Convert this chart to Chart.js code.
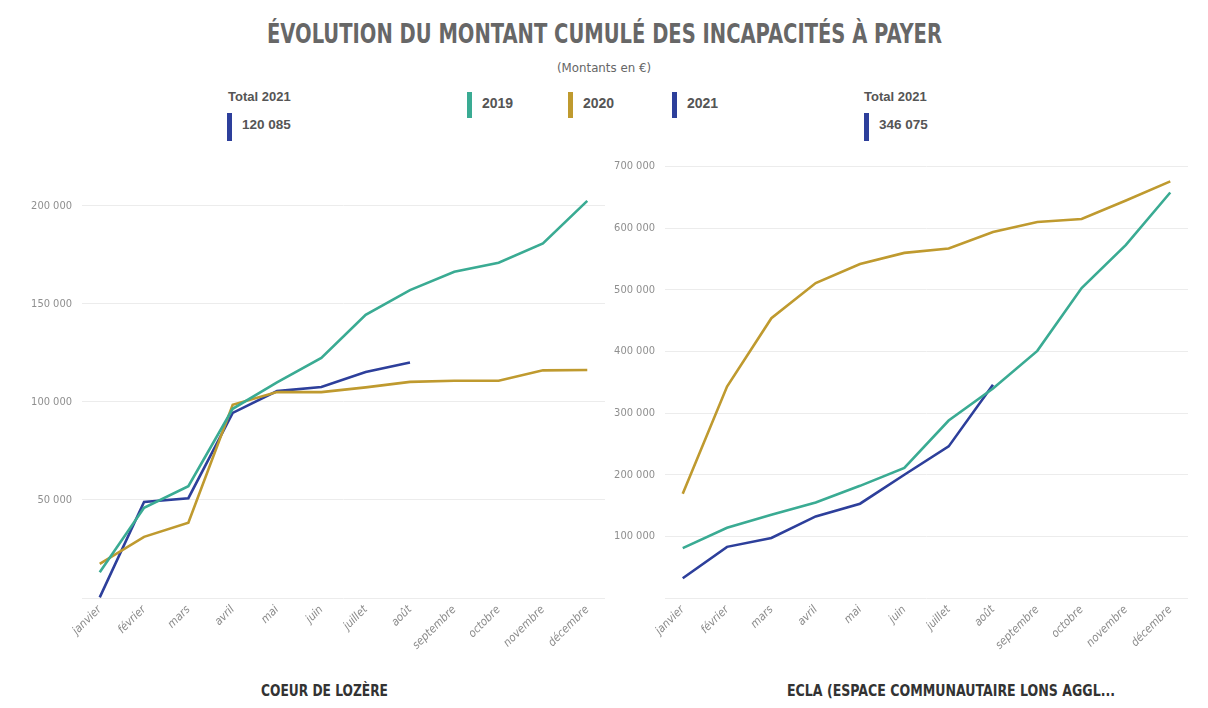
<!DOCTYPE html>
<html><head><meta charset="utf-8">
<script src="https://cdn.jsdelivr.net/npm/chart.js@4/dist/chart.umd.min.js"></script>
<style>
html,body{margin:0;padding:0;background:#fff;}
body{width:1208px;height:708px;overflow:hidden;position:relative;font-family:'Liberation Sans',Arial,sans-serif;}
.t{position:absolute;white-space:nowrap;line-height:1;transform-origin:0 0;}
.mk{position:absolute;width:5px;height:26px;}
.cv{position:absolute;top:150px;}
</style>
</head><body>
<canvas id="c1" class="cv" width="615" height="520" style="left:0px;width:615px;height:520px"></canvas>
<canvas id="c2" class="cv" width="608" height="520" style="left:600px;width:608px;height:520px"></canvas>
<script>
// ---- data ----
const months = ['janvier','février','mars','avril','mai','juin','juillet','août','septembre','octobre','novembre','décembre'];
const seriesNames = ['2019','2020','2021'];
const lozere2019 = [13100, 46000, 57000, 96500, 110000, 122400, 144400, 157000, 166400, 171000, 180800, 202500];
const lozere2020 = [17400, 31200, 38400, 98500, 105000, 105000, 107400, 110200, 110800, 110800, 116100, 116300];
const lozere2021 = [300, 49000, 50900, 94400, 105500, 107600, 115200, 120085, null, null, null, null];
const ecla2019 = [81000, 114000, 135000, 155000, 182000, 211000, 288000, 340000, 401000, 503000, 573000, 658000];
const ecla2020 = [169000, 343000, 454000, 511000, 542000, 560000, 567000, 594000, 610000, 615000, 645000, 676000];
const ecla2021 = [32000, 83000, 97300, 132400, 153000, 200000, 246000, 346075, null, null, null, null];
const lozereTicks = [0, 50000, 100000, 150000, 200000];
const eclaTicks = [0, 100000, 200000, 300000, 400000, 500000, 600000, 700000];

const COL = {'2019':'#3aab93','2020':'#bf9a2f','2021':'#2d3f9b'};
const NARROW = "'Liberation Sans Narrow','DejaVu Sans Condensed','Roboto Condensed','Liberation Sans',sans-serif";
const fmt = v => String(Math.round(v)).replace(/\B(?=(\d{3})+(?!\d))/g, ' ');
const lastVal = a => a.filter(v => v !== null).slice(-1)[0];

function addText(txt, o){
  const d = document.createElement('div');
  d.className = 't';
  d.textContent = txt;
  d.style.fontSize = o.size + 'px';
  d.style.fontWeight = o.weight || 'normal';
  d.style.color = o.color || '#555';
  d.style.fontFamily = o.family || "'Liberation Sans',Arial,sans-serif";
  d.style.top = (o.baseline - 0.846 * o.size) + 'px';
  document.body.appendChild(d);
  const w = d.getBoundingClientRect().width;
  if (o.fit) {
    d.style.left = o.x + 'px';
    d.style.transform = 'scaleX(' + (o.fit / w) + ')';
  } else if (o.align === 'center') {
    d.style.left = (o.x - w / 2) + 'px';
  } else {
    d.style.left = o.x + 'px';
  }
  return d;
}
function addMarker(x, y, color, h){
  const m = document.createElement('div');
  m.className = 'mk';
  m.style.left = x + 'px'; m.style.top = y + 'px'; m.style.background = color;
  if (h) m.style.height = h + 'px';
  document.body.appendChild(m);
}

// ---- header texts ----
addText('ÉVOLUTION DU MONTANT CUMULÉ DES INCAPACITÉS À PAYER', {x:267, fit:675, baseline:43, size:27, weight:'bold', color:'#676767', family:NARROW});
addText('(Montants en €)', {x:557, fit:94, baseline:73, size:12.5, color:'#666', family:NARROW});

const legX = [467, 568, 672];
seriesNames.forEach((n, i) => {
  addMarker(legX[i], 92, COL[n]);
  addText(n, {x:legX[i] + 15, baseline:108, size:14, weight:'bold', color:'#555'});
});

addText('Total 2021', {x:228, baseline:101, size:13, weight:'bold', color:'#555'});
addMarker(227, 113, COL['2021'], 28);
addText(fmt(lastVal(lozere2021)), {x:242, baseline:129, size:13.5, weight:'bold', color:'#555'});

addText('Total 2021', {x:864, baseline:101, size:13, weight:'bold', color:'#555'});
addMarker(864, 113, COL['2021'], 28);
addText(fmt(lastVal(ecla2021)), {x:879, baseline:129, size:13.5, weight:'bold', color:'#555'});

addText('COEUR DE LOZÈRE', {x:261, fit:127, baseline:697, size:15, weight:'bold', color:'#333', family:NARROW});
addText('ECLA (ESPACE COMMUNAUTAIRE LONS AGGL...', {x:787, fit:328, baseline:697, size:15, weight:'bold', color:'#333', family:NARROW});

// ---- charts ----
function makeChart(id, s19, s20, s21, tickVals, yMax, yWidth, padRight){
  const all = [s19, s20, s21];
  new Chart(document.getElementById(id), {
    type: 'line',
    data: {
      datasets: seriesNames.map((n, k) => ({
        label: n,
        data: all[k].map((v, i) => ({x: i, y: v})),
        borderColor: COL[n],
        backgroundColor: COL[n],
        borderWidth: 2.6,
        pointRadius: 0,
        tension: 0,
        spanGaps: false
      }))
    },
    options: {
      responsive: false,
      animation: false,
      layout: {padding: {top: 16, right: padRight, left: 0, bottom: 0}},
      plugins: {legend: {display: false}, tooltip: {enabled: false}},
      scales: {
        x: {
          type: 'linear', min: -0.4, max: months.length - 0.6,
          grid: {display: false, drawTicks: false},
          border: {display: false},
          afterBuildTicks: s => { s.ticks = months.map((m, i) => ({value: i})); },
          afterFit: s => { s.height = 72; },
          ticks: {
            autoSkip: false, minRotation: 45, maxRotation: 45, padding: 5,
            color: '#8a8a8a', font: {family: NARROW, size: 11.5, style: 'italic'},
            callback: v => months[v] ?? ''
          }
        },
        y: {
          min: tickVals[0], max: yMax,
          afterBuildTicks: s => { s.ticks = tickVals.map(v => ({value: v})); },
          afterFit: s => { s.width = yWidth; },
          grid: {color: '#ececec', lineWidth: 1, drawTicks: false},
          border: {display: false},
          ticks: {
            padding: 10, color: '#8f8f8f', font: {family: NARROW, size: 11},
            callback: v => v === 0 ? '' : fmt(v)
          }
        }
      }
    }
  });
}
makeChart('c1', lozere2019, lozere2020, lozere2021, lozereTicks, 220000, 82, 10);
makeChart('c2', ecla2019, ecla2020, ecla2021, eclaTicks, 700000, 65, 20);
</script>
</body></html>
